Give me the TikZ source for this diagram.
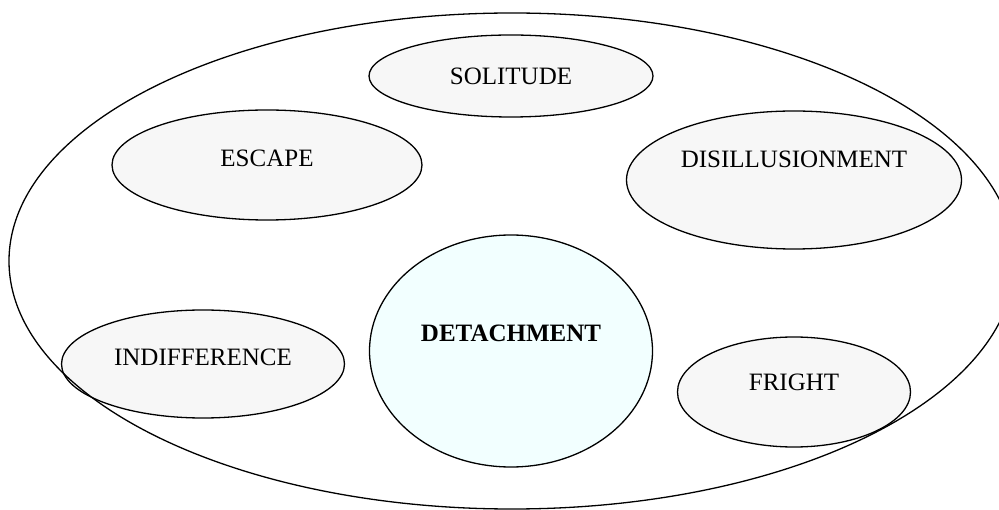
\documentclass[tikz,border=0pt]{standalone}
\usepackage{fontspec}
\setmainfont{Liberation Serif}
\usetikzlibrary{shapes.geometric}
\definecolor{lightfill}{HTML}{F7F7F7}
\definecolor{centerfill}{HTML}{F2FFFF}
\tikzset{
  bubble/.style={ellipse, draw=black, line width=1.3pt, fill=lightfill, inner sep=0pt},
  corebubble/.style={bubble, fill=centerfill},
  txt/.style={font=\fontsize{25}{28}\selectfont, inner sep=0pt},
  boldtxt/.style={txt, font=\fontsize{25}{28}\selectfont\bfseries},
  outer/.style={ellipse, draw=black, line width=1.3pt, inner sep=0pt}
}
\begin{document}
\begin{tikzpicture}[x=1pt,y=-1pt]
\useasboundingbox (0,0) rectangle (999,510);
\node[bubble, minimum width=284pt, minimum height=82pt] (solitude) at (511,76) {};
\node[bubble, minimum width=310pt, minimum height=110pt] (escape) at (267,165) {};
\node[bubble, minimum width=335pt, minimum height=138pt] (disill) at (794,180) {};
\node[corebubble, minimum width=283pt, minimum height=232pt] (detach) at (511,351) {};
\node[bubble, minimum width=283pt, minimum height=108pt] (indiff) at (203,364) {};
\node[bubble, minimum width=233pt, minimum height=110pt] (fright) at (794,392) {};
\node[outer, minimum width=1006pt, minimum height=496pt] (world) at (512,261) {};
\node[txt] (tsol) at ([yshift=0pt]solitude.center) {SOLITUDE};
\node[txt] (tesc) at ([yshift=7pt]escape.center) {ESCAPE};
\node[txt] (tdis) at ([yshift=21pt]disill.center) {DISILLUSIONMENT};
\node[boldtxt] (tdet) at ([yshift=18pt]detach.center) {DETACHMENT};
\node[txt] (tind) at ([yshift=7pt]indiff.center) {INDIFFERENCE};
\node[txt] (tfri) at ([yshift=10pt]fright.center) {FRIGHT};
\end{tikzpicture}
\end{document}
